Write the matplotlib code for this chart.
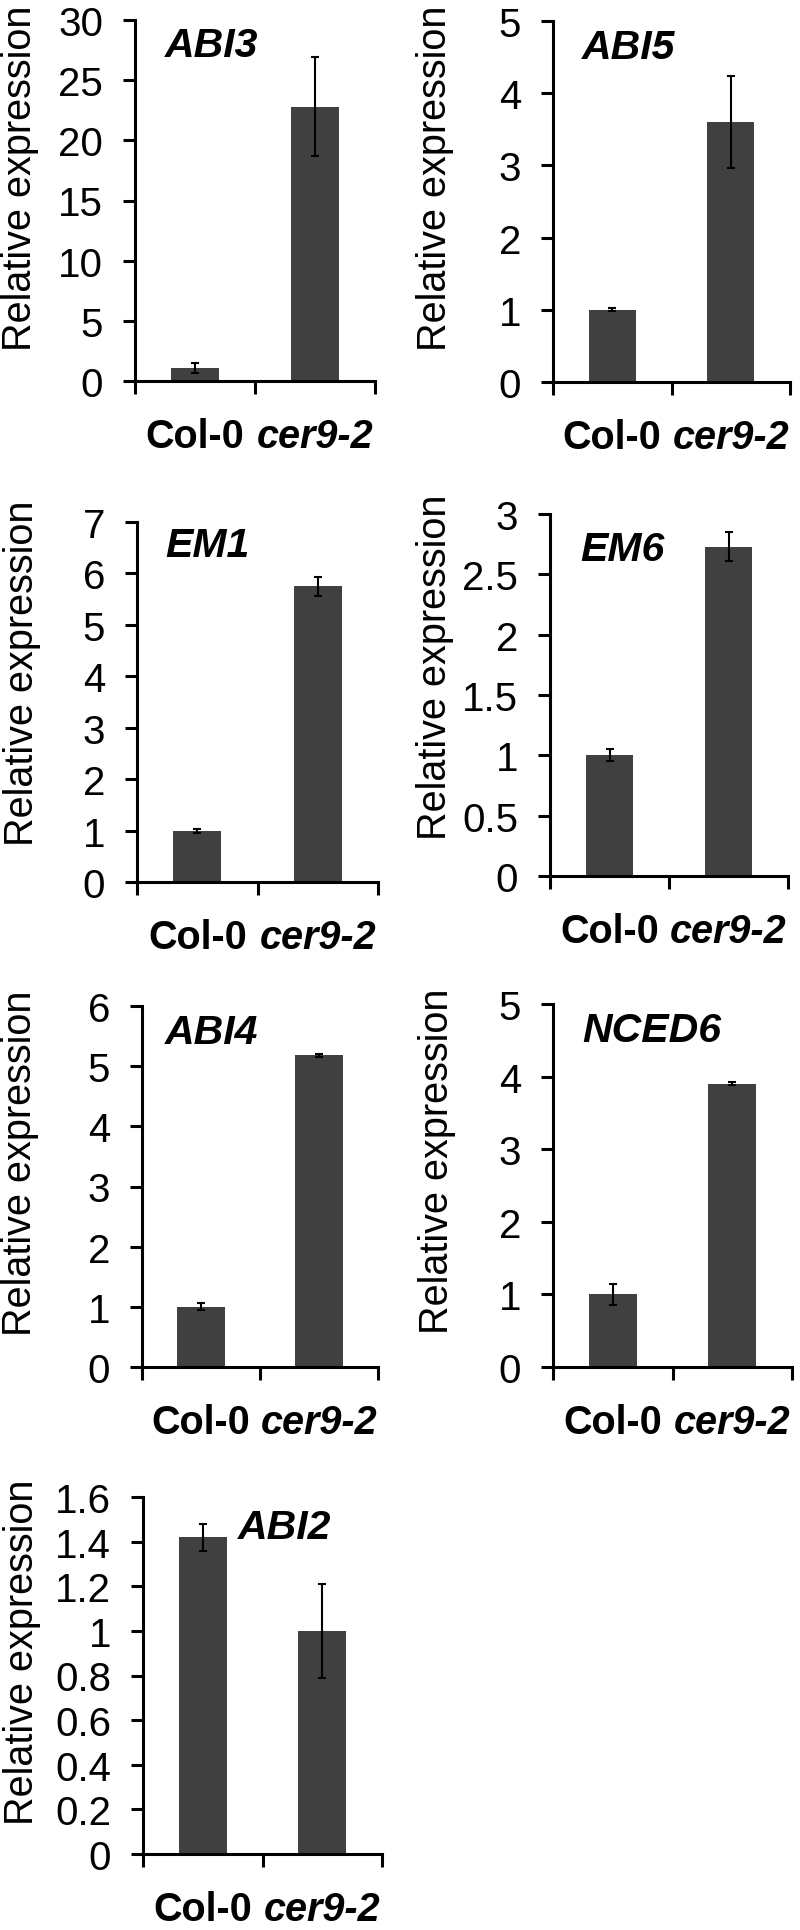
import matplotlib
matplotlib.use('Agg')
import matplotlib.pyplot as plt
from matplotlib.ticker import FormatStrFormatter, MultipleLocator
import numpy as np

plt.rcParams['font.family'] = ['Liberation Sans', 'DejaVu Sans']

genes = ['ABI3', 'ABI5', 'EM1', 'EM6', 'ABI4', 'NCED6', 'ABI2']
samples = ['Col-0', 'cer9-2']

col0_mean = [1.1, 1.0, 1.0, 1.0, 1.0, 1.0, 1.42]
col0_err = [0.4, 0.02, 0.04, 0.05, 0.06, 0.14, 0.06]
cer92_mean = [22.8, 3.6, 5.75, 2.73, 5.18, 3.9, 1.0]
cer92_err = [4.1, 0.64, 0.19, 0.12, 0.02, 0.02, 0.21]

y_max = [30, 5, 7, 3, 6, 5, 1.6]
y_step = [5, 1, 1, 0.5, 1, 1, 0.2]

#----------------------- layout (pixels in 800x1931 image) -----------------------
W, H = 800, 1931
# left, right, top, bottom of each axes
boxes = [(135, 375, 21, 382), (553, 790, 22, 383),
         (137, 378, 523, 883), (550, 788, 515, 877),
         (142, 378, 1007, 1368), (553, 792, 1005, 1368),
         (143, 382, 1498, 1855)]
# left/top of gene name
gene_pos = [(165, 27), (582, 29), (165, 527), (580, 531),
            (165, 1014), (582, 1012), (238, 1509)]
# centre of y label
ylab_pos = [(20, 178), (435, 178), (22, 673), (435, 667),
            (20, 1163), (437, 1161), (22, 1652)]

bar_color = '#404040'
lw = 2.2

fig = plt.figure(figsize=(W / 100, H / 100), dpi=100)

for i, g in enumerate(genes):
    l, r, t, b = boxes[i]
    ax = fig.add_axes([l / W, 1 - b / H, (r - l) / W, (b - t) / H])
    x = np.arange(len(samples))
    ax.bar(x, [col0_mean[i], cer92_mean[i]], width=0.4, color=bar_color,
           yerr=[col0_err[i], cer92_err[i]],
           error_kw=dict(ecolor='black', elinewidth=1.5, capsize=3, capthick=1.5))

    ax.set_xlim(-0.5, 1.5)
    ax.set_ylim(0, y_max[i])
    ax.yaxis.set_major_locator(MultipleLocator(y_step[i]))
    ax.yaxis.set_major_formatter(FormatStrFormatter('%g'))

    for s in ['top', 'right']:
        ax.spines[s].set_visible(False)
    for s in ['left', 'bottom']:
        ax.spines[s].set_linewidth(lw)

    ax.set_xticks(x)
    ax.set_xticks([-0.5, 0.5, 1.5], minor=True)
    lbls = ax.set_xticklabels(samples, fontsize=28.5, fontweight='bold')
    lbls[1].set_style('italic')
    ax.tick_params(axis='x', which='major', length=0, pad=26)
    ax.tick_params(axis='x', which='minor', length=9, width=lw, direction='out')
    ax.tick_params(axis='y', length=9, width=lw, direction='out',
                   labelsize=29, pad=14)

    ax.set_ylabel('Relative expression', fontsize=28.5)
    ax.yaxis.label.set_va('center')
    lx, ly = ylab_pos[i]
    ax.yaxis.set_label_coords((lx - l) / (r - l), (b - ly) / (b - t))

    gx, gy = gene_pos[i]
    ax.text((gx - l) / (r - l), 1 - (gy - t) / (b - t), g, transform=ax.transAxes,
            ha='left', va='top', fontsize=29.5, fontweight='bold', style='italic')

plt.savefig('out.png', dpi=100)
